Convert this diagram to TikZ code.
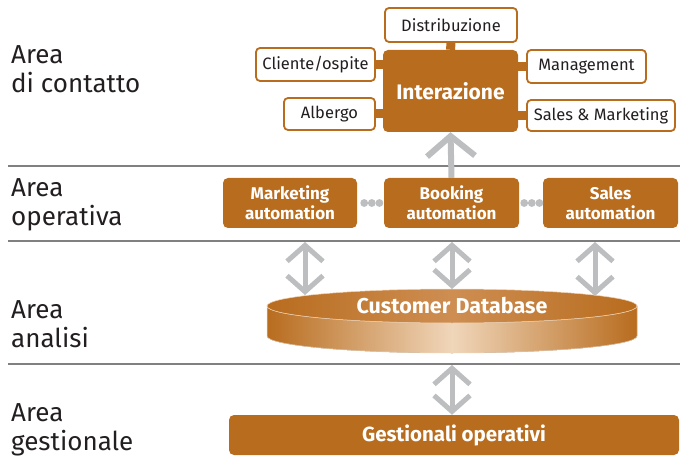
\documentclass[tikz,border=0pt]{standalone}
\usepackage{fontspec}
\setmainfont{Fira Sans}
\usepackage{tikz}
\usetikzlibrary{arrows.meta,calc,positioning,shapes.geometric}
\definecolor{brn}{RGB}{184,108,30}
\definecolor{lightbrn}{RGB}{240,214,186}
\definecolor{midbrn}{RGB}{206,142,82}
\definecolor{arrgray}{RGB}{188,190,192}
\definecolor{sepgray}{RGB}{128,128,128}
\definecolor{txt}{RGB}{35,31,32}
\tikzset{
  area label/.style={anchor=north west,inner sep=0,align=left,text=txt,font=\fontsize{26}{29}\selectfont},
  sep line/.style={sepgray,line width=1.4pt},
  white box/.style={draw=brn,line width=1.8pt,fill=white,rounded corners=4pt,text=txt,font=\fontsize{16.5}{18}\selectfont,inner sep=0},
  brown box/.style={fill=brn,rounded corners=5pt,text=white,font=\bfseries\fontsize{17}{19.5}\selectfont,align=center,inner sep=0},
  stub/.style={brn,line width=9pt},
  up arrow/.style={arrgray,line width=6pt,-{Straight Barb[length=20pt,width=48pt]}},
  dbl arrow/.style={arrgray,line width=5pt,{Straight Barb[length=16pt,width=36pt]}-{Straight Barb[length=16pt,width=36pt]}},
}

\begin{document}
\begin{tikzpicture}[x=1pt,y=-1pt]
	\useasboundingbox (0,0) rectangle (680,473);
	% areas
	\draw[sep line] (8,166) -- (680,166);
	\draw[sep line] (8,241) -- (680,241);
	\draw[sep line] (8,364) -- (680,364);
	\node[area label] (lbl1) at (11,45) {Area\\di contatto};
	\node[area label] (lbl2) at (11,178) {Area\\operativa};
	\node[area label] (lbl3) at (11,300) {Area\\analisi};
	\node[area label] (lbl4) at (11,403) {Area\\gestionale};
	
	% contatto
	\node[brown box, minimum width=135, minimum height=82, font=\bfseries\fontsize{21}{22}\selectfont] (interaz) at (450.5,91) {Interazione};
	\node[white box, minimum width=132, minimum height=34] (distrib) at (451,25) {Distribuzione};
	\node[white box, minimum width=119, minimum height=33] (cliente) at (315.5,64.5) {Cliente/ospite};
	\node[white box, minimum width=91, minimum height=32] (albergo) at (329.5,114) {Albergo};
	\node[white box, minimum width=119, minimum height=33] (manag) at (586.5,66.5) {Management};
	\node[white box, minimum width=148, minimum height=31] (sales) at (601,115.5) {Sales \& Marketing};
	\draw[stub] (distrib.south) -- (interaz.north);
	\draw[stub] (cliente.east) -- (cliente.east -| interaz.west);
	\draw[stub] (albergo.east) -- (albergo.east -| interaz.west);
	\draw[stub] (manag.west) -- (manag.west -| interaz.east);
	\draw[stub] (sales.west) -- (sales.west -| interaz.east);
	
	% operativa
	\node[brown box, minimum width=134, minimum height=50] (mktauto) at (290,203) {Marketing\\automation};
	\node[brown box, minimum width=135, minimum height=50] (bookauto) at (451.5,203) {Booking\\automation};
	\node[brown box, minimum width=135, minimum height=50] (salesauto) at (610.5,203) {Sales\\automation};
	\foreach \d in {0,1,2} {
		\fill[arrgray] ($(mktauto.east)+(7+7.6*\d,0)$) circle (3.9);
		\fill[arrgray] ($(bookauto.east)+(5+7.6*\d,0)$) circle (3.9);
	}
	\draw[up arrow] (bookauto.north) -- (interaz.south);
	
	% analisi
	\fill[left color=brn, right color=brn, middle color=lightbrn, draw=lightbrn, line width=0.5pt]
		(267,306) -- (267,336) arc[start angle=180, end angle=0, x radius=185, y radius=17]
		-- (637,306) arc[start angle=0, end angle=180, x radius=185, y radius=17] -- cycle;
	\node[ellipse, minimum width=370, minimum height=34, inner sep=0, left color=brn, right color=brn, middle color=midbrn,
		draw=lightbrn, line width=0.5pt, text=white, font=\bfseries\fontsize{21.5}{22}\selectfont] (db) at (452,306) {Customer Database};
	\coordinate (mkt in) at (305,242);
	\coordinate (book in) at (452,242);
	\coordinate (sales in) at (595,242);
	\coordinate (db mkt) at (305,295);
	\coordinate (db book) at (452,289);
	\coordinate (db sales) at (595,296);
	\draw[dbl arrow] (mkt in) -- (db mkt);
	\draw[dbl arrow] (book in) -- (db book);
	\draw[dbl arrow] (sales in) -- (db sales);
	
	% gestionale
	\node[brown box, minimum width=450, minimum height=40, font=\bfseries\fontsize{20.5}{21}\selectfont] (gest) at (454,435) {Gestionali operativi};
	\coordinate (db out) at (452,365);
	\draw[dbl arrow] (db out) -- (db out |- gest.north);
\end{tikzpicture}
\end{document}
